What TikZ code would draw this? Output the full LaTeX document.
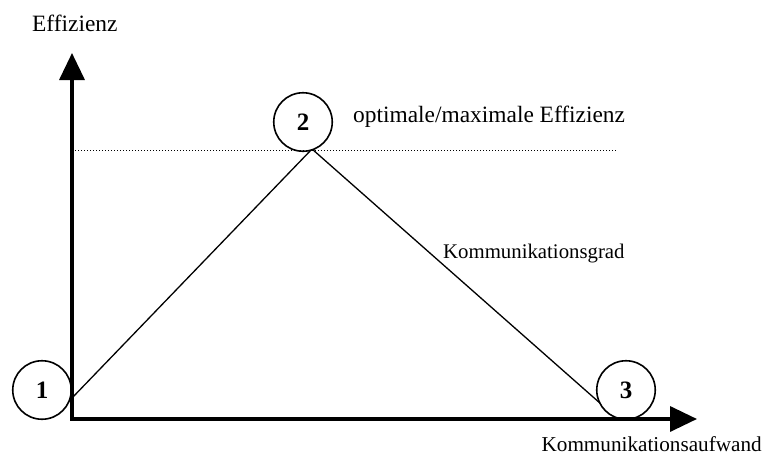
\documentclass[tikz,border=0pt]{standalone}
\usepackage{fontspec}
\setmainfont{Liberation Serif}
\usetikzlibrary{arrows.meta}
\begin{document}
\begin{tikzpicture}[x=1pt,y=-1pt,
  axis/.style={line width=3.5pt, line join=miter,
    {Triangle[width=25pt,length=27pt]}-{Triangle[width=25pt,length=27pt]}},
  curve/.style={line width=1.3pt},
  level/.style={line width=1pt, dash pattern=on 1pt off 2pt},
  phase/.style={circle, draw, line width=1.6pt, fill=white,
    minimum size=58.5pt, inner sep=0pt,
    font=\bfseries\fontsize{25}{25}\selectfont},
  biglabel/.style={inner sep=0pt, font=\fontsize{23.4}{26}\selectfont},
  label/.style={inner sep=0pt, font=\fontsize{20.8}{24}\selectfont},
  axislabel/.style={inner sep=0pt, font=\fontsize{21.2}{24}\selectfont}]
\useasboundingbox (0,0) rectangle (764,455);

% axes and curve points
\coordinate (origin) at (72,419);
\coordinate (ytop) at (72,53);
\coordinate (xend) at (697,419);
\coordinate (rise) at (72,398);
\coordinate (peak) at (312,149);
\coordinate (fall) at (618,419);
\coordinate (lvlL) at (72,150);
\coordinate (lvlR) at (617,150);

% communication degree curve
\draw[curve] (rise) -- (peak) -- (fall);

% phases
\node[phase] (p1) at (42,390) {1};
\node[phase] (p2) at (303,122) {2};
\node[phase] (p3) at (626,390) {3};

% optimum level
\draw[level] (lvlL) -- (lvlR);

% coordinate axes
\draw[axis] (ytop) -- (origin) -- (xend);

% labels
\node[biglabel, anchor=base west] (ylab) at (32,31) {Effizienz};
\node[biglabel, anchor=base west] (opt) at (353,122) {optimale/maximale Effizienz};
\node[label, anchor=base west] (grad) at (443,258) {Kommunikationsgrad};
\node[axislabel, anchor=base east] (xlab) at (762,451) {Kommunikationsaufwand};
\end{tikzpicture}
\end{document}
